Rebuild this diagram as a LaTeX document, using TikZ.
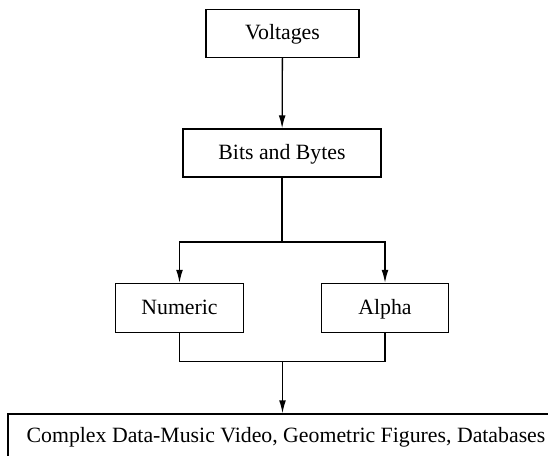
\documentclass[tikz,border=0pt]{standalone}
\usepackage{fontspec}
\setmainfont{Liberation Serif}
\usetikzlibrary{arrows.meta}
\begin{document}
\begin{tikzpicture}[x=1pt,y=-1pt,
  box/.style={draw, line width=1.3pt, inner sep=0pt, text height=16.4pt, text depth=4.4pt,
    font=\fontsize{21.8}{24}\selectfont},
  link/.style={line width=1.3pt},
  arrowlink/.style={link, -{Latex[length=13pt,width=6.8pt]}}]
  \useasboundingbox (0,0) rectangle (548,455);
  \clip (0,0) rectangle (548,455);
  % boxes
  \node[box, minimum width=153pt, minimum height=48pt] (volt) at (282.5,33.5) {Voltages};
  \node[box, minimum width=198pt, minimum height=48pt] (bits) at (282,153) {Bits and Bytes};
  \node[box, minimum width=128pt, minimum height=49pt] (num) at (179.5,308) {Numeric};
  \node[box, minimum width=127pt, minimum height=49pt] (alpha) at (385,308) {Alpha};
  \node[box, minimum width=556pt, minimum height=44pt] (complex) at (286,436) {Complex Data-Music Video, Geometric Figures, Databases};
  % branch points
  \coordinate (split) at (282,242);
  \coordinate (merge) at (282.5,361.5);
  % connectors
  \draw[arrowlink] (volt) -- (bits);
  \draw[link] (bits.south -| split) -- (split);
  \draw[arrowlink] (split) -| (num.north);
  \draw[arrowlink] (split) -| (alpha.north);
  \draw[link] (num.south) |- (merge);
  \draw[link] (alpha.south) |- (merge);
  \draw[arrowlink] (merge) -- (merge |- complex.north);
\end{tikzpicture}
\end{document}
